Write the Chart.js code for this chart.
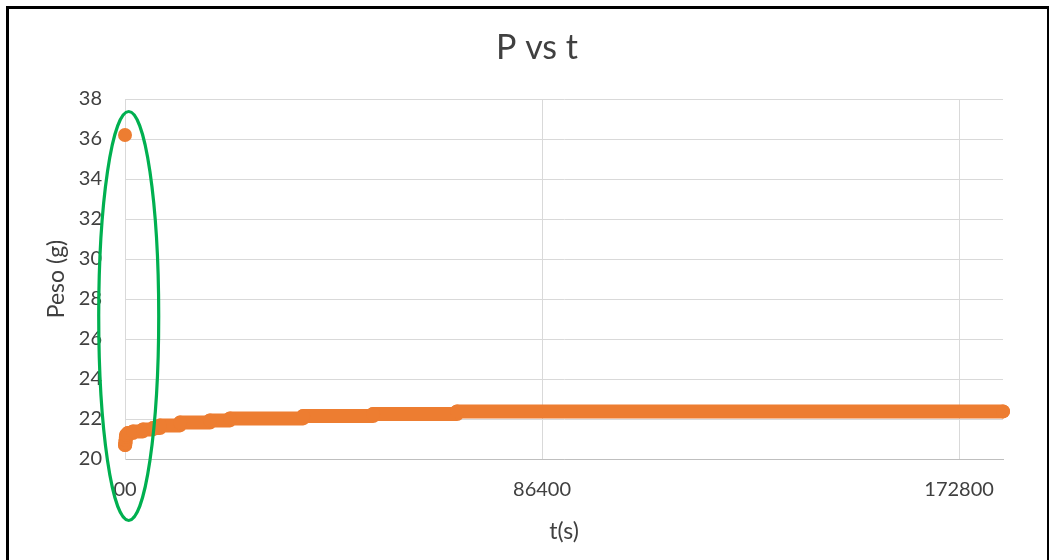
<!DOCTYPE html>
<html>
<head>
<meta charset="utf-8">
<script src="https://cdn.jsdelivr.net/npm/chart.js@4/dist/chart.umd.min.js"></script>
<style>
  html, body { margin: 0; padding: 0; background: #ffffff; }
  #wrap { position: relative; width: 1049px; height: 560px; overflow: hidden; background: #ffffff; }
  #frame { position: absolute; left: 6px; top: 6px; width: 1038px; height: 600px;
           border: 3px solid #000000; border-bottom: none; pointer-events: none; }
  canvas { position: absolute; left: 0; top: 0; }
</style>
</head>
<body>
<div id="wrap">
  <canvas id="chart" width="1049" height="560"></canvas>
  <div id="frame"></div>
</div>
<script>
// Weight readings (g) against elapsed time (s); each reading holds until the next one
const tiempo = [0, 0, 60, 120, 180, 240, 620, 1660, 3730, 5800, 7250, 11400, 17600, 21760, 36900, 51400, 68800, 181900];
const peso   = [36.2, 20.7, 20.8, 20.95, 21.1, 21.2, 21.3, 21.38, 21.48, 21.55, 21.68, 21.82, 21.93, 22.03, 22.15, 22.25, 22.38, 22.38];

// Axis ticks
const xTickValues = [0, 86400, 172800];
const xTickLabels = ['00', '86400', '172800'];
const yMin = 20, yMax = 38, yStep = 2;
const xMax = 181900;

// Highlight ring around the first readings, in data units
const ringCenterT = 770, ringCenterP = 27.15, ringRadiusT = 6216, ringRadiusP = 10.225;

const TEXT = '#404040';
const ORANGE = '#ED7D31';
const FONT = 'Lato';

const points = tiempo.map((t, i) => ({ x: t, y: peso[i] }));

const chartTitle = {
  id: 'chartTitle',
  afterDraw(chart) {
    const ctx = chart.ctx;
    ctx.save();
    ctx.fillStyle = TEXT;
    ctx.font = '34px ' + FONT;
    ctx.textAlign = 'center';
    ctx.textBaseline = 'middle';
    ctx.fillText('P vs t', 537, 48);
    ctx.restore();
  }
};

const ring = {
  id: 'ring',
  afterDraw(chart) {
    const { x, y } = chart.scales;
    const cx = x.getPixelForValue(ringCenterT);
    const cy = y.getPixelForValue(ringCenterP);
    const rx = x.getPixelForValue(ringCenterT + ringRadiusT) - cx;
    const ry = y.getPixelForValue(ringCenterP - ringRadiusP) - cy;
    const ctx = chart.ctx;
    ctx.save();
    ctx.strokeStyle = '#00B050';
    ctx.lineWidth = 3.2;
    ctx.beginPath();
    ctx.ellipse(cx, cy, rx, ry, 0, 0, Math.PI * 2);
    ctx.stroke();
    ctx.restore();
  }
};

new Chart(document.getElementById('chart'), {
  type: 'scatter',
  data: {
    datasets: [{
      label: 'Peso',
      data: points,
      showLine: true,
      stepped: true,
      borderColor: ORANGE,
      borderWidth: 14,
      borderCapStyle: 'round',
      borderJoinStyle: 'round',
      backgroundColor: ORANGE,
      pointRadius: 7,
      pointBorderWidth: 0,
      pointBackgroundColor: ORANGE,
      clip: false,
      segment: {
        borderColor: ctx => (ctx.p0DataIndex === 0 ? 'rgba(0,0,0,0)' : undefined)
      }
    }]
  },
  options: {
    responsive: false,
    animation: false,
    events: [],
    layout: { padding: { top: 99, left: 0, right: 46, bottom: 0 } },
    plugins: {
      legend: { display: false },
      title: { display: false },
      tooltip: { enabled: false }
    },
    scales: {
      x: {
        type: 'linear',
        min: 0,
        max: xMax,
        afterBuildTicks: s => { s.ticks = xTickValues.map(v => ({ value: v })); },
        afterFit: s => { s.height = 101; },
        ticks: {
          padding: 19,
          color: TEXT,
          font: { family: FONT, size: 20 },
          maxRotation: 0,
          callback: (v, i) => xTickLabels[i]
        },
        grid: { color: '#D9D9D9', lineWidth: 1, drawTicks: false },
        border: { color: '#BFBFBF', width: 1 },
        title: {
          display: true,
          text: 't(s)',
          color: TEXT,
          font: { family: FONT, size: 23 },
          padding: { top: 0, bottom: 15 }
        }
      },
      y: {
        min: yMin,
        max: yMax,
        afterFit: s => { s.width = 125; },
        ticks: {
          stepSize: yStep,
          padding: 23,
          color: TEXT,
          font: { family: FONT, size: 20 }
        },
        grid: { color: '#D9D9D9', lineWidth: 1, drawTicks: false },
        border: { color: '#D9D9D9', width: 1 },
        title: {
          display: true,
          text: 'Peso (g)',
          color: TEXT,
          font: { family: FONT, size: 23 },
          padding: { top: 43, bottom: 0 }
        }
      }
    }
  },
  plugins: [chartTitle, ring]
});
</script>
</body>
</html>
